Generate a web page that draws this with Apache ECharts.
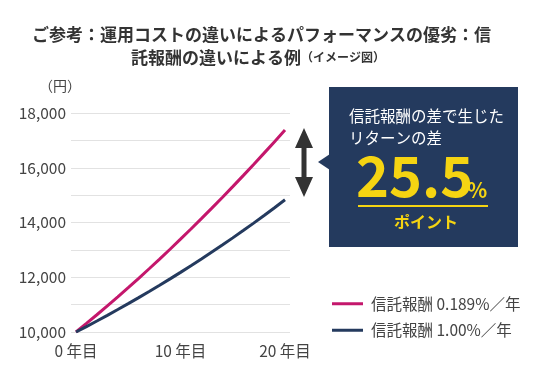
<!DOCTYPE html>
<html><head><meta charset="utf-8">
<script src="https://cdn.jsdelivr.net/npm/echarts@6/dist/echarts.min.js"></script>
<style>html,body{margin:0;padding:0;background:#fff}#c{width:548px;height:379px}</style>
</head><body><div id="c"></div>
<script>
const years = [0,1,2,3,4,5,6,7,8,9,10,11,12,13,14,15,16,17,18,19,20];
const lowFee = [10000,10312,10630,10954,11284,11620,11962,12310,12664,13024,13390,13762,14140,14524,14914,15310,15712,16120,16534,16954,17380];
const highFee = [10000,10199,10402,10609,10820,11035,11255,11479,11707,11940,12178,12420,12667,12919,13176,13438,13706,13978,14256,14540,14830];
const seriesNames = ['信託報酬 0.189%／年','信託報酬 1.00%／年'];
const xTickLabels = {0:'0 年目',10:'10 年目',20:'20 年目'};
const yTicks = [10000,12000,14000,16000,18000];
const titleLine1 = 'ご参考：運用コストの違いによるパフォーマンスの優劣：信';
const titleLine2 = '託報酬の違いによる例';
const titleNote = '（イメージ図）';
const boxLines = ['信託報酬の差で生じた','リターンの差'];
const diffValue = '25.5';

const font = '"Noto Sans CJK JP","Noto Sans",sans-serif';
const chart = echarts.init(document.getElementById('c'));
chart.setOption({
  animation:false,
  textStyle:{fontFamily:font},
  title:[
    {text:titleLine1,left:27,top:21,textStyle:{fontSize:17,fontWeight:'bold',color:'#333',fontFamily:font}},
    {text:'{a|'+titleLine2+'}{b|'+titleNote+'}',left:126,top:44,textStyle:{rich:{
      a:{fontSize:17,fontWeight:'bold',color:'#333',fontFamily:font},
      b:{fontSize:12,fontWeight:'bold',color:'#333',fontFamily:font}}}}
  ],
  legend:{orient:'vertical',left:327,top:291,itemGap:11,itemWidth:31,itemHeight:3,icon:'rect',
    data:seriesNames,
    textStyle:{fontSize:15.5,color:'#444',fontFamily:font,padding:[0,0,0,3]}},
  grid:[
    {left:71,width:219,top:113,height:219},
    {left:76,width:209,top:113,height:219}
  ],
  xAxis:[
    {gridIndex:0,type:'value',min:0,max:20,show:false},
    {gridIndex:1,type:'value',min:0,max:20,interval:10,
      axisLine:{show:false},axisTick:{show:false},splitLine:{show:false},
      axisLabel:{margin:11,fontSize:15.5,color:'#444',fontFamily:font,formatter:v=>xTickLabels[v]||''}}
  ],
  yAxis:[
    {gridIndex:0,type:'value',min:10000,max:18000,interval:1000,
      axisLine:{show:false},axisTick:{show:false},
      splitLine:{lineStyle:{color:'#e2e2e2',width:1}},
      axisLabel:{margin:5,fontSize:15.5,color:'#444',fontFamily:font,
        formatter:v=>yTicks.includes(v)?v.toLocaleString('en-US'):''}},
    {gridIndex:1,type:'value',min:10000,max:18000,show:false}
  ],
  series:[
    {name:seriesNames[0],type:'line',xAxisIndex:1,yAxisIndex:1,showSymbol:false,
      data:years.map((y,i)=>[y,lowFee[i]]),lineStyle:{color:'#c4176c',width:3},itemStyle:{color:'#c4176c'}},
    {name:seriesNames[1],type:'line',xAxisIndex:1,yAxisIndex:1,showSymbol:false,
      data:years.map((y,i)=>[y,highFee[i]]),lineStyle:{color:'#243a5e',width:3},itemStyle:{color:'#243a5e'}}
  ],
  graphic:[
    {type:'text',left:39,top:79,style:{text:'（円）',fontSize:14,fill:'#444',fontFamily:font}},
    {type:'polygon',shape:{points:[[304,128],[313,148],[306.5,148],[306.5,177],[313,177],[304,197],[295,177],[301.5,177],[301.5,148],[295,148]]},style:{fill:'#333'}},
    {type:'rect',shape:{x:329,y:87,width:189,height:160},style:{fill:'#243a5e'}},
    {type:'polygon',shape:{points:[[330,154],[318,162],[330,170]]},style:{fill:'#243a5e'}},
    {type:'text',x:349,y:116,style:{text:boxLines[0],fontSize:15.5,fill:'#fff',fontFamily:font,verticalAlign:'middle'}},
    {type:'text',x:349,y:138,style:{text:boxLines[1],fontSize:15.5,fill:'#fff',fontFamily:font,verticalAlign:'middle'}},
    {type:'text',x:356,y:204,style:{text:diffValue,fontSize:56,fontWeight:'bold',fill:'#f5d412',fontFamily:font,verticalAlign:'bottom'}},
    {type:'text',x:467,y:201,style:{text:'%',fontSize:21,fontWeight:'bold',fill:'#f5d412',fontFamily:font,verticalAlign:'bottom'}},
    {type:'rect',shape:{x:358,y:205,width:130,height:2},style:{fill:'#f5d412'}},
    {type:'text',x:426,y:222,style:{text:'ポイント',fontSize:16,fontWeight:'bold',fill:'#f5d412',fontFamily:font,align:'center',verticalAlign:'middle'}}
  ]
});
</script></body></html>
